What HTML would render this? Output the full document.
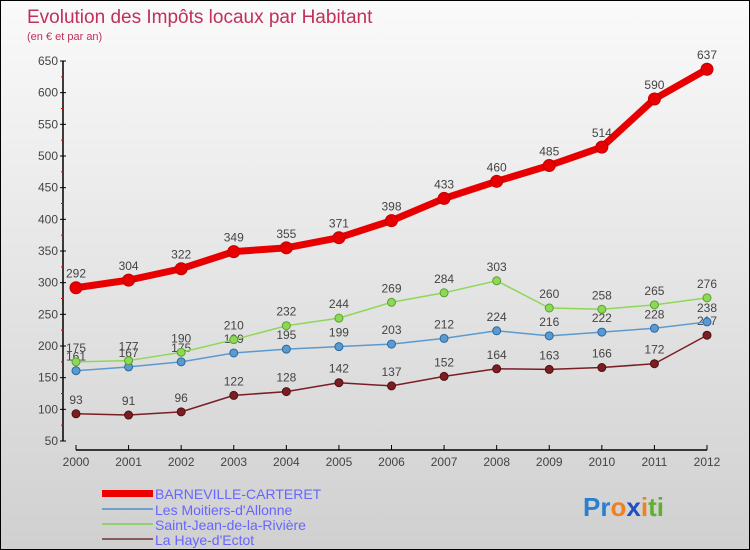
<!DOCTYPE html>
<html><head><meta charset="utf-8"><style>
body{margin:0}
#c{width:750px;height:550px;position:relative;overflow:hidden;box-sizing:border-box;border:1px solid #000;background:linear-gradient(#fafafa,#d0d0d0);font-family:"Liberation Sans","DejaVu Sans",sans-serif}
</style></head><body>
<div id="c">
<svg id="s" width="750" height="550" xmlns="http://www.w3.org/2000/svg">
<text x="26" y="22" font-size="19" fill="#c0305a">Evolution des Impôts locaux par Habitant</text>
<text x="26" y="39" font-size="11" fill="#c0305a">(en € et par an)</text>
<g id="ax"></g><g id="ser"></g>
<g font-size="14" fill="#6666ff">
<rect x="101" y="489" width="51" height="7" fill="#e00"/>
<text x="154" y="498">BARNEVILLE-CARTERET</text>
<rect x="101" y="507" width="51" height="2" fill="#6fa0cc"/>
<text x="154" y="514">Les Moitiers-d'Allonne</text>
<rect x="101" y="522" width="51" height="2" fill="#8fd070"/>
<text x="154" y="529">Saint-Jean-de-la-Rivière</text>
<rect x="101" y="537" width="51" height="2" fill="#8a5a5a"/>
<text x="154" y="544">La Haye-d'Ectot</text>
</g>
<text x="582" y="515" font-size="26" font-weight="bold"><tspan fill="#2a7fd0">Pr</tspan><tspan fill="#f08020">o</tspan><tspan fill="#2050c0">x</tspan><tspan fill="#f08020">i</tspan><tspan fill="#60b030">ti</tspan></text>
</svg></div>
<script>
const years=[2000,2001,2002,2003,2004,2005,2006,2007,2008,2009,2010,2011,2012];
const yTicks=[50,100,150,200,250,300,350,400,450,500,550,600,650];
const barneville=[292,304,322,349,355,371,398,433,460,485,514,590,637];
const moitiers=[161,167,175,189,195,199,203,212,224,216,222,228,238];
const saintJean=[175,177,190,210,232,244,269,284,303,260,258,265,276];
const laHaye=[93,91,96,122,128,142,137,152,164,163,166,172,217];
const NS="http://www.w3.org/2000/svg";
const X=i=>75+i*(706-75)/12, Y=v=>440-(v-50)*380/600;
function mk(t,a,p){const e=document.createElementNS(NS,t);for(const k in a)e.setAttribute(k,a[k]);p.appendChild(e);return e;}
const ax=document.getElementById('ax'),ser=document.getElementById('ser');
let l=mk('line',{x1:62,y1:60,x2:62,y2:440,stroke:'#000','stroke-width':1.5},ax);

l=mk('line',{x1:75,y1:449,x2:706,y2:449,stroke:'#000','stroke-width':1.5},ax);

yTicks.forEach((v,i)=>{mk('line',{x1:59,y1:Y(v),x2:65,y2:Y(v),stroke:'#000'},ax);
 if(i<yTicks.length-1)mk('line',{x1:60,y1:Y(v+25),x2:63,y2:Y(v+25),stroke:'#e00'},ax);
 const t=mk('text',{x:57,y:Y(v)+4,'text-anchor':'end','font-size':12,fill:'#444'},ax);t.textContent=v;
 });
years.forEach((y,i)=>{mk('line',{x1:X(i),y1:444,x2:X(i),y2:449,stroke:'#000'},ax);
 const t=mk('text',{x:X(i),y:465,'text-anchor':'middle','font-size':12,fill:'#444'},ax);t.textContent=y;
 });
function series(d,col,w,r,name,dark){
 const p=mk('polyline',{points:d.map((v,i)=>X(i)+','+Y(v)).join(' '),fill:'none',stroke:col,'stroke-width':w,'stroke-linejoin':'round'},ser);
 
 d.forEach((v,i)=>{const c=mk('circle',{cx:X(i),cy:Y(v),r:r,fill:col,stroke:dark,'stroke-width':1},ser);
  
  const t=mk('text',{x:X(i),y:Y(v)-10,'text-anchor':'middle','font-size':12,fill:'#444'},ser);t.textContent=v;
  });
}
series(laHaye,'#7a1e24',1.5,4,'la-haye','#501010');
series(moitiers,'#5a9ad0',1.5,4,'moitiers','#2a6aa0');
series(saintJean,'#8ed858',1.5,4,'saint-jean','#5aa030');
series(barneville,'#e80000',7,6,'barneville','#c00000');
</script>
</body></html>
